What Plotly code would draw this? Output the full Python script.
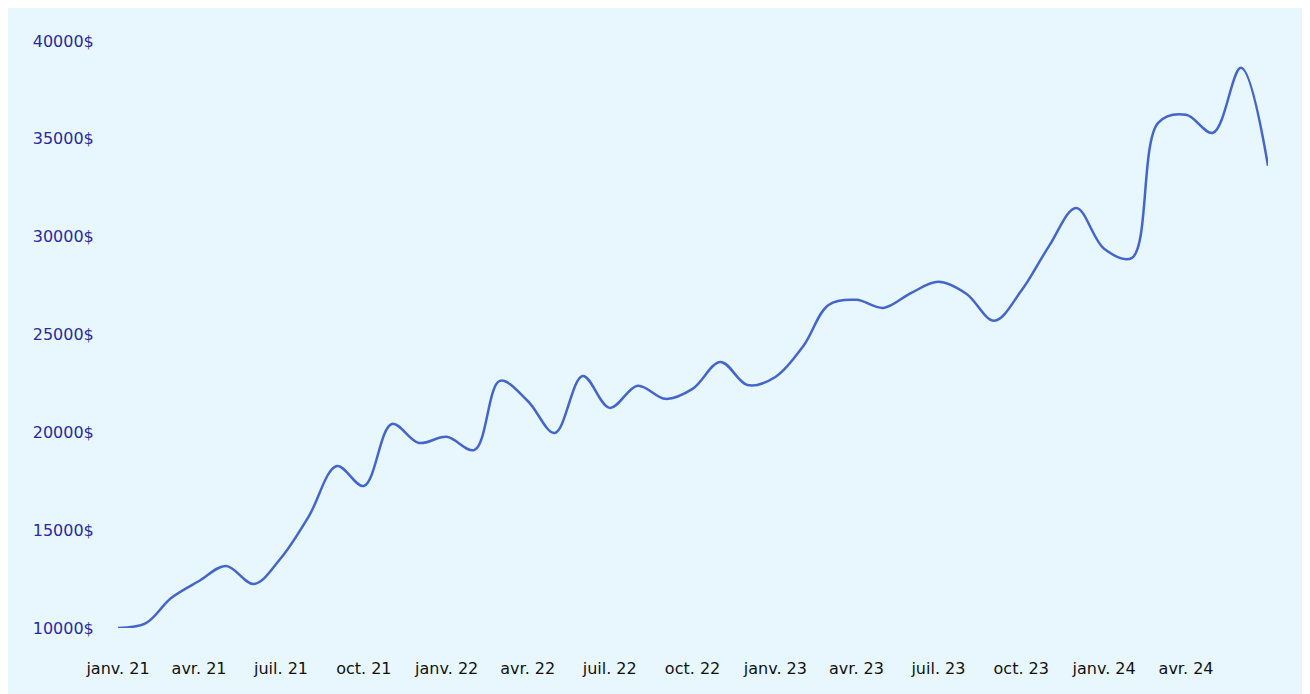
import plotly.graph_objects as go

months = [f"{y}-{m:02d}-01" for y in range(2021, 2025) for m in range(1, 13)][:43]
values = [10000, 10250, 11530, 12400, 13170, 12250, 13580, 15720, 18280, 17260,
          20430, 19460, 19770, 19100, 22630, 21600, 19970, 22880, 21250, 22380,
          21710, 22220, 23600, 22420, 22830, 24410, 26510, 26770, 26360, 27130,
          27690, 27080, 25700, 27230, 29530, 31470, 29380, 28920, 35820, 36230,
          35310, 38630, 33620]
tick_dates = ["2021-01-01", "2021-04-01", "2021-07-01", "2021-10-01",
              "2022-01-01", "2022-04-01", "2022-07-01", "2022-10-01",
              "2023-01-01", "2023-04-01", "2023-07-01", "2023-10-01",
              "2024-01-01", "2024-04-01"]
tick_text = ["janv. 21", "avr. 21", "juil. 21", "oct. 21",
             "janv. 22", "avr. 22", "juil. 22", "oct. 22",
             "janv. 23", "avr. 23", "juil. 23", "oct. 23",
             "janv. 24", "avr. 24"]
y_ticks = [10000, 15000, 20000, 25000, 30000, 35000, 40000]

fig = go.Figure(go.Scatter(
    x=months, y=values, mode="lines",
    line=dict(color="#4466cc", width=2.5, shape="spline", smoothing=1.0),
    hoverinfo="skip", showlegend=False,
))

# pas de width/height : la figure remplit la fenêtre sans bord blanc
fig.update_layout(
    autosize=True,
    paper_bgcolor="#e8f7fd", plot_bgcolor="#e8f7fd",
    margin=dict(l=110, r=34, t=33, b=74),
    font=dict(family="DejaVu Sans", size=16),
)
fig.update_xaxes(
    range=[months[0], months[-1]], tickvals=tick_dates, ticktext=tick_text,
    showgrid=False, zeroline=False, showline=False,
    tickfont=dict(color="#111111", size=16),
    ticks="outside", ticklen=26, tickcolor="rgba(0,0,0,0)",
)
fig.update_yaxes(
    range=[10000, 40000], tickvals=y_ticks,
    ticktext=[f"{v}$" for v in y_ticks],
    showgrid=False, zeroline=False, showline=False,
    tickfont=dict(color="#2a2aa0", size=16), ticks="outside", ticklen=20,
    tickcolor="rgba(0,0,0,0)",
)

fig.write_html("out.html", default_width="100%", default_height="100vh")
